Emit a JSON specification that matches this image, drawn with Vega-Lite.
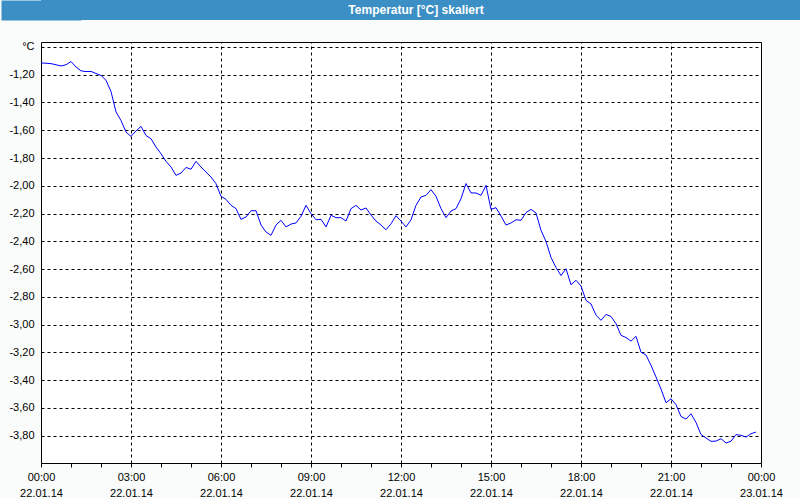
{
  "$schema": "https://vega.github.io/schema/vega-lite/v6.json",
  "padding": 0,
  "background": "#FAFCFB",
  "spacing": 20,
  "columns": 1,
  "config": {"view": {"stroke": null}, "font": "Liberation Sans", "axis": {"labelOverlap": false}},
  "concat": [
    {
      "width": 760,
      "height": 20,
      "view": {"fill": "#3C8FC4", "stroke": null},
      "data": {"values": [{"title": "Temperatur [°C] skaliert"}]},
      "mark": {"type": "text", "color": "#ffffff", "font": "Liberation Sans", "fontWeight": "bold", "fontSize": 12, "dx": -5},
      "encoding": {
        "text": {"field": "title", "type": "nominal"},
        "y": {
          "field": "title", "type": "nominal",
          "axis": {"title": null, "labels": false, "ticks": false, "grid": false, "domain": true, "domainColor": "#3C8FC4", "domainWidth": 80, "domainCap": "butt", "minExtent": 40, "maxExtent": 40}
        }
      }
    },
    {
      "width": 720,
      "height": 421,
      "view": {"fill": "#ffffff", "stroke": "#000000", "strokeWidth": 1},
      "data": {"values": [
        {"t": "2014-01-22T00:00", "v": -1.115}, {"t": "2014-01-22T00:10", "v": -1.117}, {"t": "2014-01-22T00:20", "v": -1.120}, {"t": "2014-01-22T00:30", "v": -1.128},
        {"t": "2014-01-22T00:40", "v": -1.137}, {"t": "2014-01-22T00:50", "v": -1.128}, {"t": "2014-01-22T01:00", "v": -1.105}, {"t": "2014-01-22T01:10", "v": -1.144},
        {"t": "2014-01-22T01:20", "v": -1.172}, {"t": "2014-01-22T01:30", "v": -1.177}, {"t": "2014-01-22T01:40", "v": -1.176}, {"t": "2014-01-22T01:50", "v": -1.191},
        {"t": "2014-01-22T02:00", "v": -1.205}, {"t": "2014-01-22T02:10", "v": -1.240}, {"t": "2014-01-22T02:20", "v": -1.321}, {"t": "2014-01-22T02:30", "v": -1.468},
        {"t": "2014-01-22T02:40", "v": -1.530}, {"t": "2014-01-22T02:50", "v": -1.613}, {"t": "2014-01-22T03:00", "v": -1.644}, {"t": "2014-01-22T03:10", "v": -1.605},
        {"t": "2014-01-22T03:20", "v": -1.572}, {"t": "2014-01-22T03:30", "v": -1.638}, {"t": "2014-01-22T03:40", "v": -1.661}, {"t": "2014-01-22T03:50", "v": -1.721},
        {"t": "2014-01-22T04:00", "v": -1.769}, {"t": "2014-01-22T04:10", "v": -1.824}, {"t": "2014-01-22T04:20", "v": -1.865}, {"t": "2014-01-22T04:30", "v": -1.925},
        {"t": "2014-01-22T04:40", "v": -1.908}, {"t": "2014-01-22T04:50", "v": -1.868}, {"t": "2014-01-22T05:00", "v": -1.881}, {"t": "2014-01-22T05:10", "v": -1.824},
        {"t": "2014-01-22T05:20", "v": -1.865}, {"t": "2014-01-22T05:30", "v": -1.901}, {"t": "2014-01-22T05:40", "v": -1.937}, {"t": "2014-01-22T05:50", "v": -1.985},
        {"t": "2014-01-22T06:00", "v": -2.076}, {"t": "2014-01-22T06:10", "v": -2.098}, {"t": "2014-01-22T06:20", "v": -2.141}, {"t": "2014-01-22T06:30", "v": -2.165},
        {"t": "2014-01-22T06:40", "v": -2.242}, {"t": "2014-01-22T06:50", "v": -2.225}, {"t": "2014-01-22T07:00", "v": -2.180}, {"t": "2014-01-22T07:10", "v": -2.180},
        {"t": "2014-01-22T07:20", "v": -2.283}, {"t": "2014-01-22T07:30", "v": -2.333}, {"t": "2014-01-22T07:40", "v": -2.357}, {"t": "2014-01-22T07:50", "v": -2.283},
        {"t": "2014-01-22T08:00", "v": -2.249}, {"t": "2014-01-22T08:10", "v": -2.297}, {"t": "2014-01-22T08:20", "v": -2.276}, {"t": "2014-01-22T08:30", "v": -2.268},
        {"t": "2014-01-22T08:40", "v": -2.220}, {"t": "2014-01-22T08:50", "v": -2.141}, {"t": "2014-01-22T09:00", "v": -2.201}, {"t": "2014-01-22T09:10", "v": -2.245},
        {"t": "2014-01-22T09:20", "v": -2.242}, {"t": "2014-01-22T09:30", "v": -2.297}, {"t": "2014-01-22T09:40", "v": -2.213}, {"t": "2014-01-22T09:50", "v": -2.230},
        {"t": "2014-01-22T10:00", "v": -2.230}, {"t": "2014-01-22T10:10", "v": -2.254}, {"t": "2014-01-22T10:20", "v": -2.165}, {"t": "2014-01-22T10:30", "v": -2.141},
        {"t": "2014-01-22T10:40", "v": -2.175}, {"t": "2014-01-22T10:50", "v": -2.160}, {"t": "2014-01-22T11:00", "v": -2.211}, {"t": "2014-01-22T11:10", "v": -2.254},
        {"t": "2014-01-22T11:20", "v": -2.283}, {"t": "2014-01-22T11:30", "v": -2.317}, {"t": "2014-01-22T11:40", "v": -2.274}, {"t": "2014-01-22T11:50", "v": -2.216},
        {"t": "2014-01-22T12:00", "v": -2.254}, {"t": "2014-01-22T12:10", "v": -2.297}, {"t": "2014-01-22T12:20", "v": -2.245}, {"t": "2014-01-22T12:30", "v": -2.141},
        {"t": "2014-01-22T12:40", "v": -2.081}, {"t": "2014-01-22T12:50", "v": -2.069}, {"t": "2014-01-22T13:00", "v": -2.028}, {"t": "2014-01-22T13:10", "v": -2.076},
        {"t": "2014-01-22T13:20", "v": -2.165}, {"t": "2014-01-22T13:30", "v": -2.230}, {"t": "2014-01-22T13:40", "v": -2.182}, {"t": "2014-01-22T13:50", "v": -2.165},
        {"t": "2014-01-22T14:00", "v": -2.093}, {"t": "2014-01-22T14:10", "v": -1.984}, {"t": "2014-01-22T14:20", "v": -2.052}, {"t": "2014-01-22T14:30", "v": -2.052},
        {"t": "2014-01-22T14:40", "v": -2.069}, {"t": "2014-01-22T14:50", "v": -1.997}, {"t": "2014-01-22T15:00", "v": -2.170}, {"t": "2014-01-22T15:10", "v": -2.158},
        {"t": "2014-01-22T15:20", "v": -2.218}, {"t": "2014-01-22T15:30", "v": -2.283}, {"t": "2014-01-22T15:40", "v": -2.268}, {"t": "2014-01-22T15:50", "v": -2.245},
        {"t": "2014-01-22T16:00", "v": -2.249}, {"t": "2014-01-22T16:10", "v": -2.193}, {"t": "2014-01-22T16:20", "v": -2.170}, {"t": "2014-01-22T16:30", "v": -2.196},
        {"t": "2014-01-22T16:40", "v": -2.321}, {"t": "2014-01-22T16:50", "v": -2.402}, {"t": "2014-01-22T17:00", "v": -2.517}, {"t": "2014-01-22T17:10", "v": -2.589},
        {"t": "2014-01-22T17:20", "v": -2.647}, {"t": "2014-01-22T17:30", "v": -2.598}, {"t": "2014-01-22T17:40", "v": -2.713}, {"t": "2014-01-22T17:50", "v": -2.681},
        {"t": "2014-01-22T18:00", "v": -2.723}, {"t": "2014-01-22T18:10", "v": -2.826}, {"t": "2014-01-22T18:20", "v": -2.852}, {"t": "2014-01-22T18:30", "v": -2.932},
        {"t": "2014-01-22T18:40", "v": -2.970}, {"t": "2014-01-22T18:50", "v": -2.927}, {"t": "2014-01-22T19:00", "v": -2.942}, {"t": "2014-01-22T19:10", "v": -2.994},
        {"t": "2014-01-22T19:20", "v": -3.078}, {"t": "2014-01-22T19:30", "v": -3.094}, {"t": "2014-01-22T19:40", "v": -3.120}, {"t": "2014-01-22T19:50", "v": -3.085},
        {"t": "2014-01-22T20:00", "v": -3.200}, {"t": "2014-01-22T20:10", "v": -3.220}, {"t": "2014-01-22T20:20", "v": -3.294}, {"t": "2014-01-22T20:30", "v": -3.378},
        {"t": "2014-01-22T20:40", "v": -3.465}, {"t": "2014-01-22T20:50", "v": -3.564}, {"t": "2014-01-22T21:00", "v": -3.535}, {"t": "2014-01-22T21:10", "v": -3.577},
        {"t": "2014-01-22T21:20", "v": -3.663}, {"t": "2014-01-22T21:30", "v": -3.681}, {"t": "2014-01-22T21:40", "v": -3.643}, {"t": "2014-01-22T21:50", "v": -3.706},
        {"t": "2014-01-22T22:00", "v": -3.793}, {"t": "2014-01-22T22:10", "v": -3.818}, {"t": "2014-01-22T22:20", "v": -3.842}, {"t": "2014-01-22T22:30", "v": -3.840},
        {"t": "2014-01-22T22:40", "v": -3.823}, {"t": "2014-01-22T22:50", "v": -3.854}, {"t": "2014-01-22T23:00", "v": -3.841}, {"t": "2014-01-22T23:10", "v": -3.793},
        {"t": "2014-01-22T23:20", "v": -3.799}, {"t": "2014-01-22T23:30", "v": -3.811}, {"t": "2014-01-22T23:40", "v": -3.787}, {"t": "2014-01-22T23:50", "v": -3.775}
      ]},
      "encoding": {
        "y": {
          "field": "v", "type": "quantitative",
          "scale": {"domain": [-3.998, -0.964], "nice": false, "zero": false},
          "axis": {
            "title": null, "domain": false, "ticks": false,
            "values": [-1, -1.2, -1.4, -1.6, -1.8, -2, -2.2, -2.4, -2.6, -2.8, -3, -3.2, -3.4, -3.6, -3.8],
            "grid": true, "gridColor": "#000000", "gridOpacity": 1, "gridDash": [3, 3], "gridWidth": 1,
            "labelExpr": "datum.value > -1.05 ? '°C' : '-' + replace(format(abs(datum.value), '.2f'), '.', ',')",
            "labelOverlap": false, "minExtent": 40, "maxExtent": 40,
            "labelPadding": 7, "labelFont": "Liberation Sans", "labelFontSize": 11, "labelColor": "#000000"
          }
        }
      },
      "layer": [
        {
          "mark": {"type": "line", "color": "#0000FF", "strokeWidth": 1},
          "encoding": {
            "x": {
              "field": "t", "type": "temporal",
              "scale": {"domain": [{"year": 2014, "month": 1, "date": 22, "hours": 0}, {"year": 2014, "month": 1, "date": 23, "hours": 0}], "nice": false},
              "axis": {
                "orient": "bottom", "title": null, "grid": false, "domain": false,
                "values": [
                  {"year": 2014, "month": 1, "date": 22, "hours": 0}, {"year": 2014, "month": 1, "date": 22, "hours": 1}, {"year": 2014, "month": 1, "date": 22, "hours": 2},
                  {"year": 2014, "month": 1, "date": 22, "hours": 3}, {"year": 2014, "month": 1, "date": 22, "hours": 4}, {"year": 2014, "month": 1, "date": 22, "hours": 5},
                  {"year": 2014, "month": 1, "date": 22, "hours": 6}, {"year": 2014, "month": 1, "date": 22, "hours": 7}, {"year": 2014, "month": 1, "date": 22, "hours": 8},
                  {"year": 2014, "month": 1, "date": 22, "hours": 9}, {"year": 2014, "month": 1, "date": 22, "hours": 10}, {"year": 2014, "month": 1, "date": 22, "hours": 11},
                  {"year": 2014, "month": 1, "date": 22, "hours": 12}, {"year": 2014, "month": 1, "date": 22, "hours": 13}, {"year": 2014, "month": 1, "date": 22, "hours": 14},
                  {"year": 2014, "month": 1, "date": 22, "hours": 15}, {"year": 2014, "month": 1, "date": 22, "hours": 16}, {"year": 2014, "month": 1, "date": 22, "hours": 17},
                  {"year": 2014, "month": 1, "date": 22, "hours": 18}, {"year": 2014, "month": 1, "date": 22, "hours": 19}, {"year": 2014, "month": 1, "date": 22, "hours": 20},
                  {"year": 2014, "month": 1, "date": 22, "hours": 21}, {"year": 2014, "month": 1, "date": 22, "hours": 22}, {"year": 2014, "month": 1, "date": 22, "hours": 23},
                  {"year": 2014, "month": 1, "date": 23, "hours": 0}
                ],
                "ticks": true, "tickSize": 4, "tickColor": "#000000",
                "labelExpr": "hours(datum.value) % 3 == 0 ? [timeFormat(datum.value, '%H:%M'), timeFormat(datum.value, '%d.%m.%y')] : ''",
                "labelOverlap": false, "labelFlush": false, "labelPadding": 4,
                "labelFont": "Liberation Sans", "labelFontSize": 11, "labelColor": "#000000", "labelLineHeight": 16
              }
            }
          }
        },
        {
          "mark": {"type": "line", "opacity": 0},
          "encoding": {
            "x": {
              "field": "t", "type": "temporal",
              "axis": {
                "orient": "top", "title": null, "labels": false, "ticks": false, "domain": false,
                "values": [
                  {"year": 2014, "month": 1, "date": 22, "hours": 3}, {"year": 2014, "month": 1, "date": 22, "hours": 6}, {"year": 2014, "month": 1, "date": 22, "hours": 9},
                  {"year": 2014, "month": 1, "date": 22, "hours": 12}, {"year": 2014, "month": 1, "date": 22, "hours": 15}, {"year": 2014, "month": 1, "date": 22, "hours": 18},
                  {"year": 2014, "month": 1, "date": 22, "hours": 21}
                ],
                "grid": true, "gridColor": "#000000", "gridOpacity": 1, "gridDash": [3, 3], "gridWidth": 1
              }
            }
          }
        }
      ],
      "resolve": {"axis": {"x": "independent"}}
    }
  ]
}
